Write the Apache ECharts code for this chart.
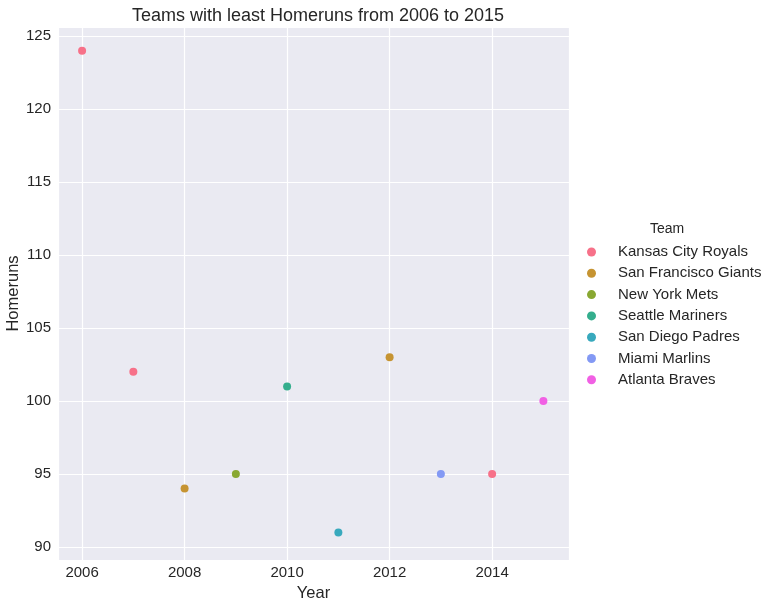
<!DOCTYPE html>
<html>
<head>
<meta charset="utf-8">
<script src="https://cdn.jsdelivr.net/npm/echarts@6/dist/echarts.min.js"></script>
<style>
  html, body { margin: 0; padding: 0; background: #fff; }
  #container { width: 773px; height: 607px; }
</style>
</head>
<body>
<div id="container"></div>
<script>
var myChart = echarts.init(document.getElementById('container'));

// data
var teams = ['Kansas City Royals', 'San Francisco Giants', 'New York Mets',
  'Seattle Mariners', 'San Diego Padres', 'Miami Marlins', 'Atlanta Braves'];
var years = [2006, 2007, 2008, 2009, 2010, 2011, 2012, 2013, 2014, 2015];
var homeruns = [124, 102, 94, 95, 101, 91, 103, 95, 95, 100];
var yearTeam = ['Kansas City Royals', 'Kansas City Royals', 'San Francisco Giants',
  'New York Mets', 'Seattle Mariners', 'San Diego Padres', 'San Francisco Giants',
  'Miami Marlins', 'Kansas City Royals', 'Atlanta Braves'];
var colors = ['#f77189', '#c69432', '#89a832', '#34ae8d', '#38a9bd', '#8399f4', '#f160e4'];

var font = '"Liberation Sans", Arial, sans-serif';
var ink = '#262626';

var series = teams.map(function (team, k) {
  var pts = [];
  for (var i = 0; i < years.length; i++) {
    if (yearTeam[i] === team) pts.push([years[i], homeruns[i]]);
  }
  return {
    name: team,
    type: 'scatter',
    symbolSize: 8,
    itemStyle: { color: colors[k], opacity: 1 },
    data: pts
  };
});

var option = {
  backgroundColor: '#fff',
  animation: false,
  title: [{
    text: 'Teams with least Homeruns from 2006 to 2015',
    left: 313,
    textAlign: 'center',
    top: 2,
    textStyle: { color: ink, fontSize: 18, fontWeight: 'normal', fontFamily: font }
  }, {
    text: 'Team',
    left: 662,
    textAlign: 'center',
    top: 217,
    textStyle: { color: ink, fontSize: 14, fontWeight: 'normal', fontFamily: font }
  }],
  legend: {
    orient: 'vertical',
    left: 582,
    top: 239,
    icon: 'circle',
    itemWidth: 9,
    itemHeight: 9,
    itemGap: 5.3,
    textStyle: {
      color: ink, fontSize: 15, fontFamily: font,
      lineHeight: 16, padding: [0, 0, 0, 17]
    },
    data: teams
  },
  grid: {
    left: 58,
    right: 204,
    top: 27,
    bottom: 47,
    outerBoundsMode: 'none',
    containLabel: false,
    show: true,
    backgroundColor: '#eaeaf2',
    borderWidth: 0
  },
  xAxis: {
    type: 'value',
    min: 2005.53,
    max: 2015.5,
    splitNumber: 5,
    name: 'Year',
    nameLocation: 'middle',
    nameGap: 25,
    nameMoveOverlap: false,
    nameTextStyle: { color: ink, fontSize: 16.5, fontFamily: font },
    axisLine: { show: false },
    axisTick: { show: false },
    axisLabel: {
      color: ink, fontSize: 15, fontFamily: font, margin: 5,
      showMinLabel: false, showMaxLabel: false,
      formatter: function (v) { return v % 2 === 0 ? String(v) : ''; }
    },
    splitLine: { show: true, lineStyle: { color: '#fff', width: 1.2 } }
  },
  yAxis: {
    type: 'value',
    min: 89.11,
    max: 125.62,
    splitNumber: 7,
    name: 'Homeruns',
    nameLocation: 'middle',
    nameGap: 36,
    nameMoveOverlap: false,
    nameTextStyle: { color: ink, fontSize: 16.5, fontFamily: font },
    axisLine: { show: false },
    axisTick: { show: false },
    axisLabel: {
      color: ink, fontSize: 15, fontFamily: font, margin: 7,
      showMinLabel: false, showMaxLabel: false,
      formatter: function (v) { return v % 5 === 0 ? String(v) : ''; }
    },
    splitLine: { show: true, lineStyle: { color: '#fff', width: 1.2 } }
  },
  series: series
};

myChart.setOption(option);
</script>
</body>
</html>
